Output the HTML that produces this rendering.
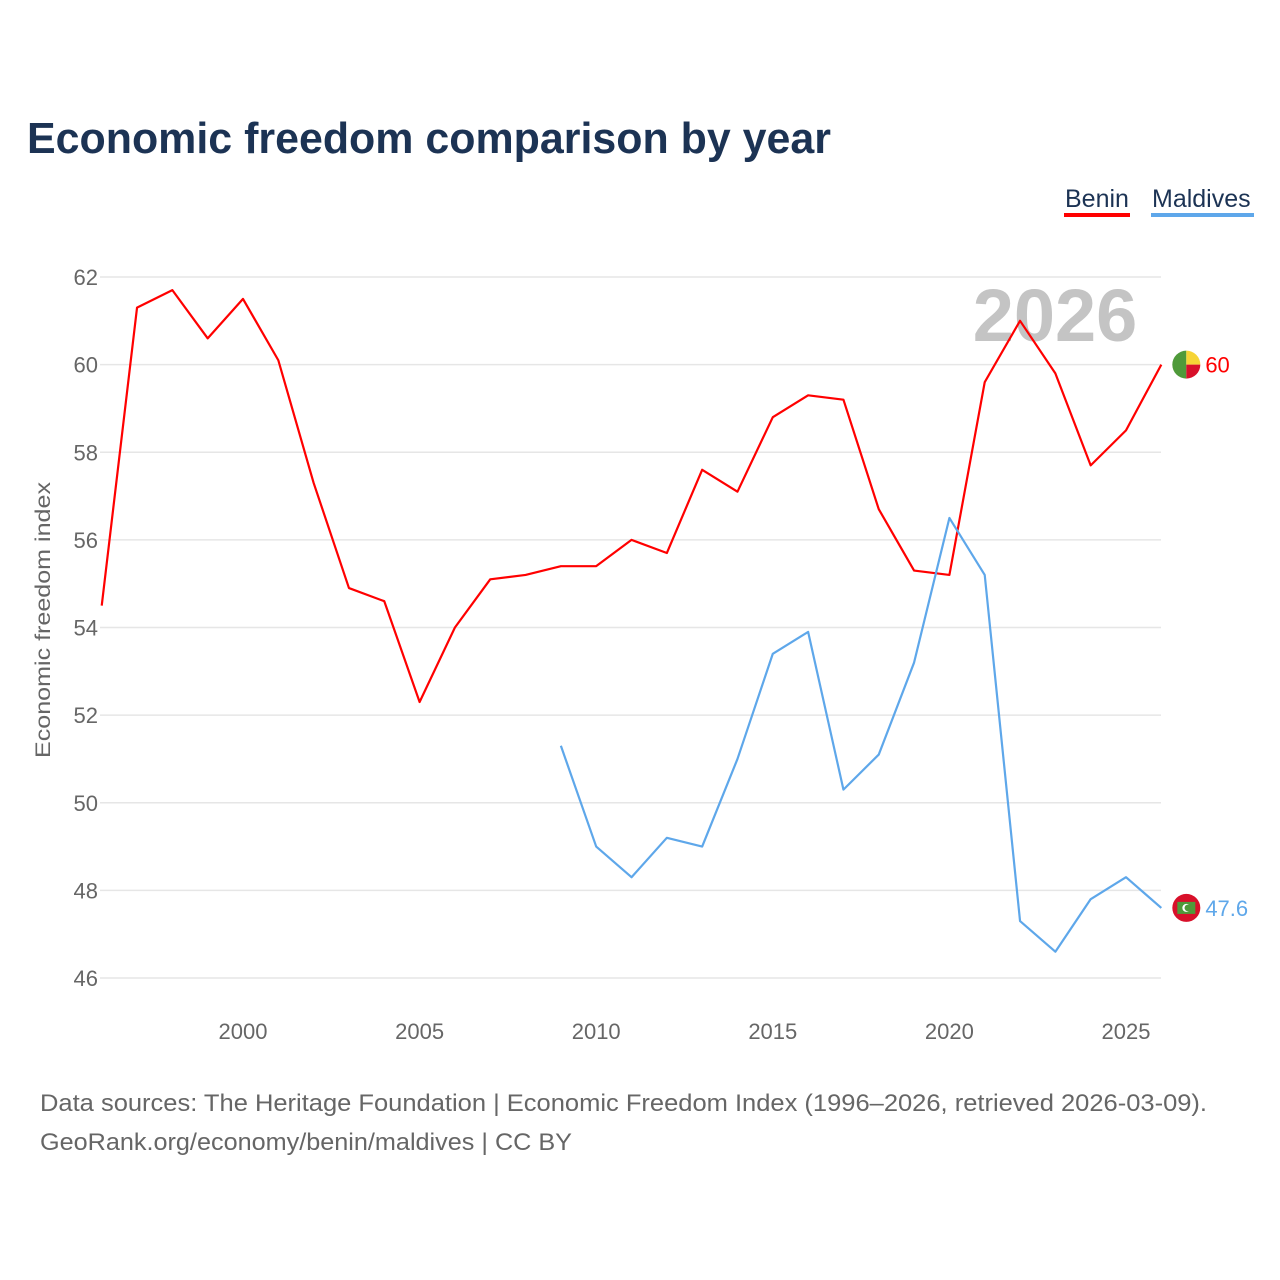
<!DOCTYPE html>
<html><head><meta charset="utf-8"><style>
body{margin:0;background:#fff;font-family:"Liberation Sans",sans-serif}
#wrap{position:relative;width:1280px;height:1280px;overflow:hidden}
</style></head><body>
<div id="wrap">
<svg id="chart" width="1280" height="1280">
<text x="27" y="153" font-size="44" font-weight="bold" fill="#1c3354" textLength="804" lengthAdjust="spacingAndGlyphs">Economic freedom comparison by year</text>
<g>
<text x="1065" y="207" font-size="25" fill="#1c3354">Benin</text>
<rect x="1064" y="213" width="66" height="4" fill="#ff0000"/>
<text x="1152" y="207" font-size="25" fill="#1c3354">Maldives</text>
<rect x="1151" y="213" width="103" height="4" fill="#5ea7ea"/>
</g>
<text x="1055" y="341" font-size="74" font-weight="bold" fill="#c4c4c4" text-anchor="middle">2026</text>
<g id="grid"></g><g id="yticks"></g><g id="xticks"></g><g id="series"></g>
<text transform="translate(50,620) rotate(-90)" font-size="21" fill="#666" text-anchor="middle" textLength="276" lengthAdjust="spacingAndGlyphs">Economic freedom index</text>
<text x="40" y="1111" font-size="24" fill="#666" textLength="1167" lengthAdjust="spacingAndGlyphs">Data sources: The Heritage Foundation | Economic Freedom Index (1996–2026, retrieved 2026-03-09).</text>
<text x="40" y="1150" font-size="24" fill="#666" textLength="532" lengthAdjust="spacingAndGlyphs">GeoRank.org/economy/benin/maldives | CC BY</text>
</svg>
</div>
<script>
const benYears=[1996,1997,1998,1999,2000,2001,2002,2003,2004,2005,2006,2007,2008,2009,2010,2011,2012,2013,2014,2015,2016,2017,2018,2019,2020,2021,2022,2023,2024,2025,2026];
const beninValues=[54.5,61.3,61.7,60.6,61.5,60.1,57.3,54.9,54.6,52.3,54.0,55.1,55.2,55.4,55.4,56.0,55.7,57.6,57.1,58.8,59.3,59.2,56.7,55.3,55.2,59.6,61.0,59.8,57.7,58.5,60.0];
const malYears=[2009,2010,2011,2012,2013,2014,2015,2016,2017,2018,2019,2020,2021,2022,2023,2024,2025,2026];
const maldivesValues=[51.3,49.0,48.3,49.2,49.0,51.0,53.4,53.9,50.3,51.1,53.2,56.5,55.2,47.3,46.6,47.8,48.3,47.6];
const yTicks=[46,48,50,52,54,56,58,60,62];
const xTicks=[2000,2005,2010,2015,2020,2025];
const NS="http://www.w3.org/2000/svg";
const X=y=>243+(y-2000)*35.32;
const Y=v=>277+(62-v)*43.8125;
function mk(t,a,p){const e=document.createElementNS(NS,t);for(const k in a)e.setAttribute(k,a[k]);p.appendChild(e);return e;}
const g=document.getElementById('grid'),yt=document.getElementById('yticks'),xt=document.getElementById('xticks'),s=document.getElementById('series');
yTicks.forEach(v=>{
 const l=mk('line',{x1:100,x2:1161,y1:Y(v),y2:Y(v),stroke:'#e6e6e6','stroke-width':1.5},g);
 
 
 const t=mk('text',{x:98,y:Y(v)+8,'font-size':22,fill:'#666','text-anchor':'end'},yt);t.textContent=v;
 
 
});
xTicks.forEach(v=>{
 const t=mk('text',{x:X(v),y:1039,'font-size':22,fill:'#666','text-anchor':'middle'},xt);t.textContent=v;
 
 
});
function line(years,vals,color,name){
 const p=mk('polyline',{points:years.map((y,i)=>X(y)+','+Y(vals[i])).join(' '),fill:'none',stroke:color,'stroke-width':2.2,'stroke-linejoin':'round'},s);
 
 
 const ly=years[years.length-1],lv=vals[vals.length-1];
 const cx=X(ly)+25,cy=Y(lv);
 const fg=mk('g',{},s);
 
 
 if(name==='benin'){
  mk('path',{d:`M${cx},${cy-14} A14,14 0 0 0 ${cx},${cy+14} Z`,fill:'#4f9a3a'},fg);
  mk('path',{d:`M${cx},${cy-14} A14,14 0 0 1 ${cx+14},${cy} L${cx},${cy} Z`,fill:'#f6d436'},fg);
  mk('path',{d:`M${cx},${cy} L${cx+14},${cy} A14,14 0 0 1 ${cx},${cy+14} Z`,fill:'#d8102a'},fg);
 }else{
  mk('circle',{cx:cx,cy:cy,r:14,fill:'#d8102a'},fg);
  mk('rect',{x:cx-9,y:cy-6,width:18,height:12,fill:'#4f9a3a'},fg);
  mk('circle',{cx:cx,cy:cy,r:4,fill:'#fff'},fg);
  mk('circle',{cx:cx+1.5,cy:cy,r:3.3,fill:'#4f9a3a'},fg);
 }
 const t=mk('text',{x:X(ly)+44,y:Y(lv)+8,'font-size':22,fill:color},s);t.textContent=lv;
 
 
}
line(benYears,beninValues,'#ff0000','benin');
line(malYears,maldivesValues,'#5ea7ea','maldives');
</script>
</body></html>
